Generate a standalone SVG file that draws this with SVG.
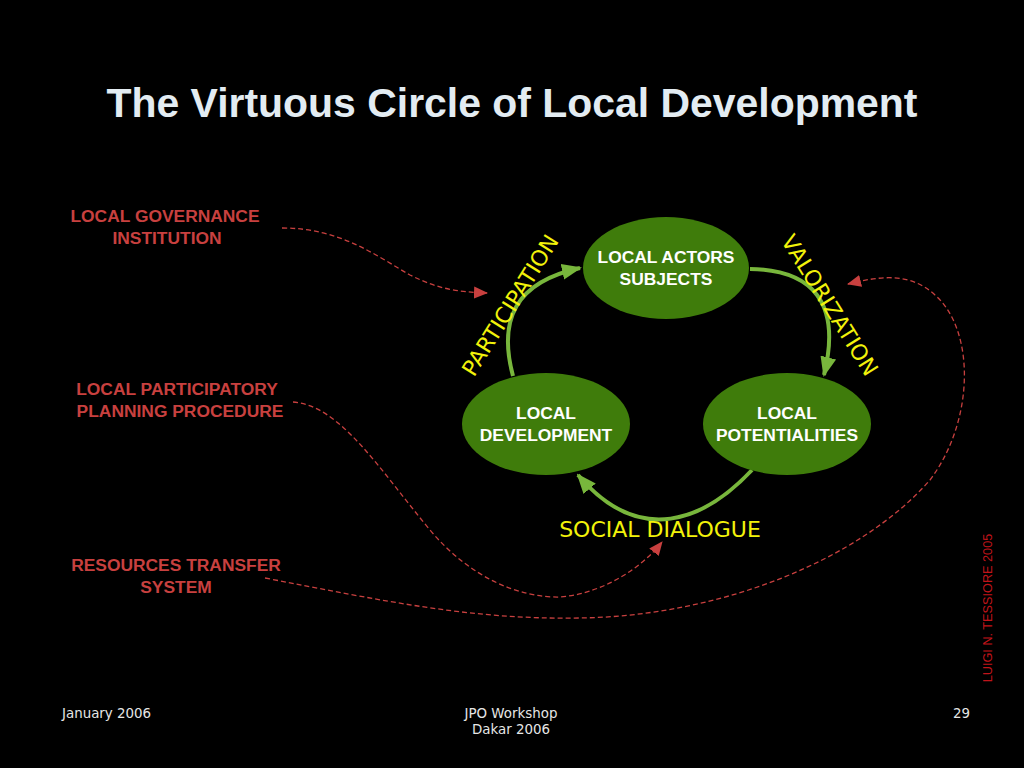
<svg xmlns="http://www.w3.org/2000/svg" width="1024" height="768" viewBox="0 0 1024 768">
<style>
.title{font-family:"Liberation Sans",Arial,sans-serif;font-weight:bold;font-size:40px;fill:#e3ecf2;text-anchor:middle}
.node{fill:#3f7c0b}
.ntxt{font-family:"Liberation Sans",Arial,sans-serif;font-weight:bold;font-size:17.4px;fill:#ffffff;text-anchor:middle}
.red{font-family:"Liberation Sans",Arial,sans-serif;font-weight:bold;font-size:17.4px;fill:#c8403f;text-anchor:middle}
.yel{font-family:"DejaVu Sans",Verdana,sans-serif;font-size:22px;fill:#f2f20a;text-anchor:middle}
.foot{font-family:"DejaVu Sans",Verdana,sans-serif;font-size:13.4px;fill:#e6e6e6}
.garrow{fill:none;stroke:#78b63c;stroke-width:4}
.rdash{fill:none;stroke:#c8403f;stroke-width:1.3;stroke-dasharray:5 3}
</style>
<defs>
<marker id="gh" markerUnits="userSpaceOnUse" markerWidth="20" markerHeight="20" viewBox="0 0 20 20" refX="18" refY="10" orient="auto">
<path d="M0,2 L20,10 L0,18 Z" fill="#78b63c"/>
</marker>
<marker id="rh" markerUnits="userSpaceOnUse" markerWidth="14" markerHeight="14" viewBox="0 0 14 14" refX="13" refY="7" orient="auto">
<path d="M0,1 L14,7 L0,13 Z" fill="#c8403f"/>
</marker>
</defs>
<rect x="0" y="0" width="1024" height="768" fill="#000000"/>
<text class="title" x="512" y="117" textLength="811" lengthAdjust="spacingAndGlyphs">The Virtuous Circle of Local Development</text>

<g id="connectors">
<path class="garrow" d="M513,376 C498,320 515,282 580,268" marker-end="url(#gh)"/>
<path class="garrow" d="M750,269 C812,270 842,302 824,375" marker-end="url(#gh)"/>
<path class="garrow" d="M752,470 C705,520 640,548 578,475" marker-end="url(#gh)"/>
<path class="rdash" d="M282,228 C340,228 375,255 410,275 C440,290 460,292 487,293" marker-end="url(#rh)"/>
<path class="rdash" d="M293,402 C340,405 380,470 430,530 C470,578 520,598 560,597 C600,594 640,570 662,542" marker-end="url(#rh)"/>
<path class="rdash" d="M265,578 C380,600 470,620 580,618 C720,616 860,560 930,480 C975,420 975,330 935,295 C910,272 880,276 848,284" marker-end="url(#rh)"/>
</g>

<g id="node-actors">
<ellipse class="node" cx="666" cy="268" rx="83" ry="51"/>
<text class="ntxt" x="666" y="263">LOCAL ACTORS</text>
<text class="ntxt" x="666" y="285">SUBJECTS</text>
</g>
<g id="node-development">
<ellipse class="node" cx="546" cy="424" rx="84" ry="51"/>
<text class="ntxt" x="546" y="419">LOCAL</text>
<text class="ntxt" x="546" y="441">DEVELOPMENT</text>
</g>
<g id="node-potentialities">
<ellipse class="node" cx="787" cy="424" rx="84" ry="51"/>
<text class="ntxt" x="787" y="419">LOCAL</text>
<text class="ntxt" x="787" y="441">POTENTIALITIES</text>
</g>

<g id="labels">
<text class="yel" transform="translate(510,305) rotate(-58)" y="8">PARTICIPATION</text>
<text class="yel" transform="translate(830,305) rotate(58)" y="8">VALORIZATION</text>
<text class="yel" x="660" y="537">SOCIAL DIALOGUE</text>
</g>

<g id="src-governance">
<text class="red" x="165" y="222">LOCAL GOVERNANCE</text>
<text class="red" x="167" y="244">INSTITUTION</text>
</g>
<g id="src-planning">
<text class="red" x="177" y="395">LOCAL PARTICIPATORY</text>
<text class="red" x="180" y="417">PLANNING PROCEDURE</text>
</g>
<g id="src-resources">
<text class="red" x="176" y="571">RESOURCES TRANSFER</text>
<text class="red" x="176" y="593">SYSTEM</text>
</g>

<text transform="translate(992,608) rotate(-90)" font-family="Liberation Sans, Arial, sans-serif" font-size="12.7" fill="#c0141a" text-anchor="middle">LUIGI N. TESSIORE 2005</text>

<text class="foot" x="62" y="718">January 2006</text>
<text class="foot" x="511" y="718" text-anchor="middle">JPO Workshop</text>
<text class="foot" x="511" y="734" text-anchor="middle">Dakar 2006</text>
<text class="foot" x="953" y="718">29</text>
</svg>
